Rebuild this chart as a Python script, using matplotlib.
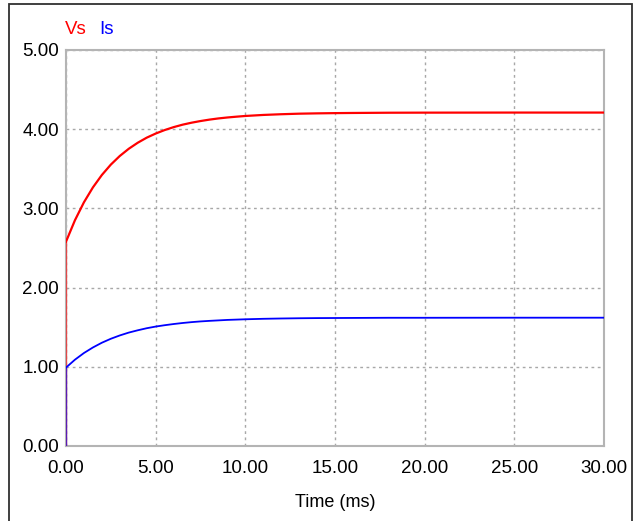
import matplotlib
matplotlib.use('Agg')
import matplotlib.pyplot as plt
from matplotlib import font_manager
from matplotlib.patches import Rectangle

# Tempo (ms) e valores
tempo = [0.0, 0.0, 0.5, 1.0, 1.5, 2.0, 2.5, 3.0, 3.5, 4.0, 4.5, 5.0, 5.5, 6.0, 6.5,
         7.0, 7.5, 8.0, 8.5, 9.0, 9.5, 10.0, 11.0, 12.0, 13.0, 14.0, 15.0, 16.0,
         18.0, 20.0, 25.0, 30.0]
vs = [0.000, 2.580, 2.851, 3.077, 3.265, 3.422, 3.553, 3.662, 3.753, 3.829, 3.893,
      3.945, 3.989, 4.026, 4.057, 4.082, 4.103, 4.121, 4.136, 4.148, 4.158, 4.167,
      4.180, 4.189, 4.196, 4.200, 4.203, 4.205, 4.208, 4.209, 4.210, 4.210]
is_ = [0.000, 0.990, 1.090, 1.174, 1.244, 1.304, 1.354, 1.396, 1.432, 1.461, 1.487,
       1.508, 1.525, 1.540, 1.553, 1.564, 1.573, 1.580, 1.586, 1.592, 1.596, 1.600,
       1.606, 1.610, 1.613, 1.615, 1.616, 1.617, 1.619, 1.619, 1.620, 1.620]

xticks = [0, 5, 10, 15, 20, 25, 30]
yticks = [0, 1, 2, 3, 4, 5]

# Fonte estreita, parecida com a do PSIM (se existir)
nomes = {f.name for f in font_manager.fontManager.ttflist}
if 'Liberation Sans Narrow' in nomes:
    fonte, tam = 'Liberation Sans Narrow', 15
else:
    fonte, tam = 'Liberation Sans', 13.5
plt.rcParams['font.family'] = [fonte, 'DejaVu Sans']

fig = plt.figure(figsize=(6.39, 5.21), dpi=100)
ax = fig.add_axes([66 / 639, 1 - 446 / 521, 538 / 639, 396 / 521])

# Salto inicial em t=0 (traço mais fino e claro)
ax.plot(tempo[:2], vs[:2], color='#ff0000', linewidth=1.0, alpha=0.6, zorder=3)
ax.plot(tempo[:2], is_[:2], color='#0000ff', linewidth=1.0, alpha=0.6, zorder=3)
ax.plot(tempo[1:], vs[1:], color='#ff0000', linewidth=1.6, zorder=3)
ax.plot(tempo[1:], is_[1:], color='#0000ff', linewidth=1.3, zorder=3)

ax.set_xlim(0, 30)
ax.set_ylim(0, 5)
ax.set_xticks(xticks)
ax.set_yticks(yticks)
ax.set_xticklabels([f'{v:.2f}' for v in xticks], fontsize=tam)
ax.set_yticklabels([f'{v:.2f}' for v in yticks], fontsize=tam)
ax.tick_params(length=0, pad=5)
ax.tick_params(axis='x', pad=10)

ax.grid(True, color='#a8a8a8', linestyle=(0, (2, 2.5)), linewidth=1.0)
ax.set_axisbelow(True)
for s in ax.spines.values():
    s.set_color('#b4b4b4')
    s.set_linewidth(1.5)

ax.set_xlabel('Time (ms)', fontsize=tam - 0.5, labelpad=12)

# Legenda no estilo PSIM
fig.text(65 / 639, 1 - 30 / 521, 'Vs', color='#ff0000', fontsize=tam, va='center', ha='left')
fig.text(99 / 639, 1 - 30 / 521, 'Is', color='#0000ff', fontsize=tam, va='center', ha='left')

# Moldura externa escura
fig.patches.append(Rectangle((8.5 / 639, -0.05), 623 / 639, 1.05 - 4.5 / 521,
                             transform=fig.transFigure, fill=False,
                             edgecolor='#303030', linewidth=1.3))

fig.savefig('out.png', dpi=100)
